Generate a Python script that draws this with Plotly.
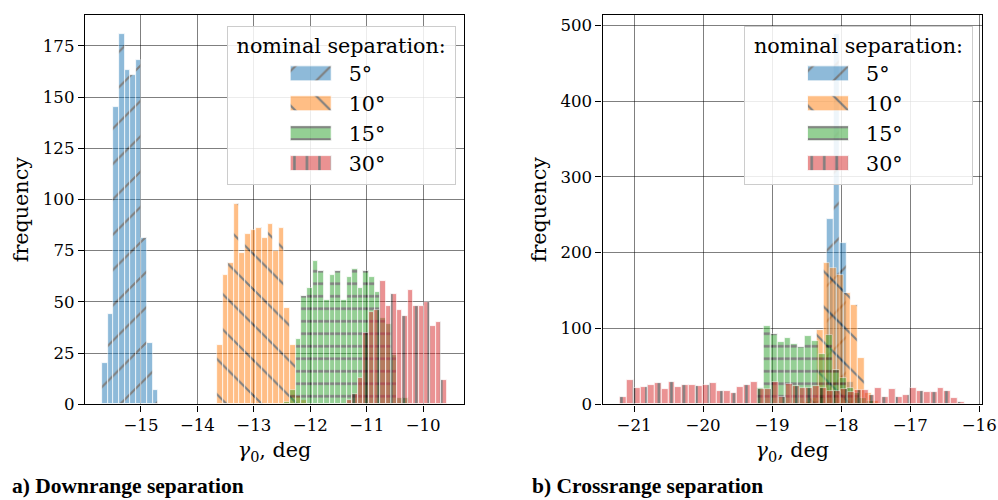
import plotly.graph_objects as go

# ---- series -------------------------------------------------------------
SERIES = ["5°", "10°", "15°", "30°"]
COLORS = ["#1f77b4", "#ff7f0e", "#2ca02c", "#d62728"]
HATCH = ["/", "\\", "-", "|"]
HATCH_SIZE = [25, 25, 12.5, 12.5]
HATCH_SOLIDITY = [0.085, 0.085, 0.2, 0.2]

# ---- a) downrange separation: first bin edge (deg), bin width (deg), counts
dr_start = [-15.686, -13.652, -12.457, -11.355]
dr_width = [0.0993, 0.0994, 0.1, 0.0985]
dr_counts_5 = [20, 44, 145, 181, 163, 161, 168, 81, 30, 7]
dr_counts_10 = [29, 63, 69, 98, 74, 83, 85, 86, 81, 88, 75, 86, 47, 29, 4, 2]
dr_counts_15 = [1, 7, 32, 53, 57, 70, 65, 51, 63, 65, 51, 62, 66, 57, 65, 62,
                55, 42, 39, 24, 3, 3]
dr_counts_30 = [2, 5, 13, 35, 45, 46, 60, 48, 54, 46, 43, 56, 48, 48, 50, 38,
                40, 12]

# ---- b) crossrange separation
cr_start = [-18.414, -18.559, -19.224, -21.204]
cr_width = [0.0999, 0.0999, 0.0999, 0.0999]
cr_counts_5 = [4, 10, 244, 489, 213, 30, 8, 2]
cr_counts_10 = [3, 8, 98, 186, 180, 170, 147, 131, 61, 15, 4]
cr_counts_15 = [21, 103, 93, 82, 87, 80, 75, 90, 83, 66, 91, 45, 35, 22, 15,
                8, 4]
cr_counts_30 = [10, 32, 22, 23, 26, 28, 20, 30, 23, 25, 25, 24, 25, 28, 17, 18,
                15, 23, 25, 29, 20, 20, 29, 9, 27, 24, 22, 22, 24, 21, 17, 18,
                20, 16, 19, 19, 12, 21, 10, 20, 10, 12, 21, 18, 16, 16, 21, 17,
                8, 3]

DR_COUNTS = [dr_counts_5, dr_counts_10, dr_counts_15, dr_counts_30]
CR_COUNTS = [cr_counts_5, cr_counts_10, cr_counts_15, cr_counts_30]

X_TICKS_DR = [-15, -14, -13, -12, -11, -10]
Y_TICKS_DR = [0, 25, 50, 75, 100, 125, 150, 175]
X_TICKS_CR = [-21, -20, -19, -18, -17, -16]
Y_TICKS_CR = [0, 100, 200, 300, 400, 500]

FONT = "DejaVu Serif"
TICK_PX = 16.6
LABEL_PX = 20.7


def hist_bars(start, width, counts, k, xaxis, yaxis, legend):
    centers = [start + width * (i + 0.5) for i in range(len(counts))]
    return go.Bar(
        x=centers, y=counts, width=width,
        name=SERIES[k], legend=legend,
        xaxis=xaxis, yaxis=yaxis,
        marker=dict(
            color=COLORS[k], opacity=0.5,
            line=dict(color="white", width=0.8),
            pattern=dict(shape=HATCH[k], size=HATCH_SIZE[k],
                         solidity=HATCH_SOLIDITY[k], fgcolor="black",
                         fgopacity=1, bgcolor=COLORS[k], fillmode="overlay"),
        ),
        hoverinfo="x+y",
    )


fig = go.Figure()
for k in range(4):
    fig.add_trace(hist_bars(dr_start[k], dr_width[k], DR_COUNTS[k], k,
                            "x", "y", "legend"))
for k in range(4):
    fig.add_trace(hist_bars(cr_start[k], cr_width[k], CR_COUNTS[k], k,
                            "x2", "y2", "legend2"))


def padded(lo, hi, frac=0.05):
    span = hi - lo
    return [lo - frac * span, hi + frac * span]


def x_extent(starts, widths, counts):
    lo = min(starts)
    hi = max(s + w * len(c) for s, w, c in zip(starts, widths, counts))
    return lo, hi


dr_lo, dr_hi = x_extent(dr_start, dr_width, DR_COUNTS)
cr_lo, cr_hi = x_extent(cr_start, cr_width, CR_COUNTS)
dr_ymax = max(max(c) for c in DR_COUNTS) * 1.05
cr_ymax = max(max(c) for c in CR_COUNTS) * 1.05

axis_common = dict(
    showline=True, mirror=True, linecolor="black", linewidth=1.4,
    ticks="outside", ticklen=6, tickwidth=1.3, tickcolor="black",
    showgrid=True, gridcolor="rgba(0,0,0,0.5)", gridwidth=1,
    zeroline=False, automargin=False,
    tickfont=dict(family=FONT, size=TICK_PX, color="black"),
    title_font=dict(family=FONT, size=LABEL_PX, color="black"),
)

X_TITLE = "<i>γ</i><sub>0</sub>, deg"

fig.update_layout(
    width=998, height=500,
    margin=dict(l=0, r=0, t=0, b=0),
    paper_bgcolor="white", plot_bgcolor="white",
    barmode="overlay", bargap=0,
    font=dict(family=FONT, color="black"),
    xaxis=dict(domain=[0.0852, 0.4649], range=padded(dr_lo, dr_hi),
               tickvals=X_TICKS_DR, anchor="y",
               title=dict(text=X_TITLE, standoff=8), **axis_common),
    yaxis=dict(domain=[0.1914, 0.97], range=[0, dr_ymax],
               tickvals=Y_TICKS_DR, anchor="x",
               title=dict(text="frequency", standoff=8), **axis_common),
    xaxis2=dict(domain=[0.6039, 0.984], range=padded(cr_lo, cr_hi),
                tickvals=X_TICKS_CR, anchor="y2",
                title=dict(text=X_TITLE, standoff=8), **axis_common),
    yaxis2=dict(domain=[0.1914, 0.97], range=[0, cr_ymax],
                tickvals=Y_TICKS_CR, anchor="x2",
                title=dict(text="frequency", standoff=8), **axis_common),
)

LEGEND_TITLE = "\u00a0nominal separation:\u00a0"
legend_common = dict(
    xanchor="left", yanchor="top",
    bgcolor="rgba(255,255,255,0.85)", bordercolor="#cccccc", borderwidth=1,
    font=dict(family=FONT, size=LABEL_PX, color="black"),
    title=dict(text=LEGEND_TITLE, side="top center",
               font=dict(family=FONT, size=LABEL_PX, color="black")),
    traceorder="normal", itemwidth=111,
)
fig.update_layout(
    legend=dict(x=226.7 / 998, y=1 - 25.5 / 500, **legend_common),
    legend2=dict(x=744 / 998, y=1 - 25.5 / 500, **legend_common),
)

CAPTION_FONT = dict(family="Liberation Serif", size=21.5, color="black",
                    weight="bold")
fig.add_annotation(text="a) Downrange separation", xref="paper", yref="paper",
                   x=10 / 998, y=(500 - 486) / 500, xanchor="left",
                   yanchor="middle", showarrow=False, font=CAPTION_FONT)
fig.add_annotation(text="b) Crossrange separation", xref="paper",
                   yref="paper", x=530 / 998, y=(500 - 486) / 500,
                   xanchor="left", yanchor="middle", showarrow=False,
                   font=CAPTION_FONT)

# Legend keys: widen each key to a 41 x 15 px hatched patch that reuses the
# hatch fill of its own bars and their half transparency.
LEGEND_KEY_JS = """
var gd = document.getElementById('{plot_id}');
var fills = {};
gd.querySelectorAll('.barlayer g.trace').forEach(function (g) {
    var cd = g.__data__;
    var p = g.querySelector('path');
    if (cd && cd[0] && cd[0].trace && p) {
        fills[cd[0].trace.index] = p.style.fill || p.getAttribute('fill');
    }
});
gd.querySelectorAll('g.traces').forEach(function (g) {
    var p = g.querySelector('g.legendpoints path');
    if (!p) return;
    p.setAttribute('d', 'M43,7.5H2V-7.5H43Z');
    var d = g.__data__;
    var idx = (d && d[0] && d[0].trace) ? d[0].trace.index : null;
    if (idx !== null && fills[idx]) p.style.fill = fills[idx];
    p.style.opacity = 0.5;
});
"""

fig.write_html("out.html", post_script=LEGEND_KEY_JS)
